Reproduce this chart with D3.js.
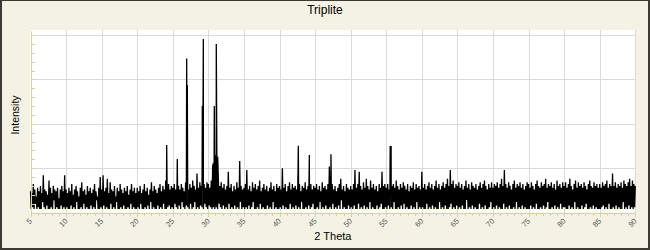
<!DOCTYPE html>
<html><head><meta charset="utf-8">
<script src="https://cdn.jsdelivr.net/npm/d3@7"></script>
<style>html,body{margin:0;padding:0;background:#f4f2e4;}svg{display:block;}</style>
</head><body>
<script>
// ---------- data ----------
const chartTitle = "Triplite";
const xTitle = "2 Theta";
const yTitle = "Intensity";
const xTickValues = [5,10,15,20,25,30,35,40,45,50,55,60,65,70,75,80,85,90];
const yGridValues = [25,50,75,100];

// background counts: upper samples at 5.0, 5.2, ... 90.0 (one row per 5 degrees)
const noiseStart = 5, noiseStep = 0.2;
const noiseHi = [
 12,11,16,13,9, 14,12,15,11,21, 13,12,10,18,14, 11,15,13,12,14, 8,13,15,12,21,
 13,11,14,12,16, 10,13,15,12,9, 14,17,12,13,10, 15,12,14,11,13, 16,12,9,14,20,
 13,21,12,14,19, 11,17,13,12,15, 9,14,12,16,13, 11,14,12,15,10, 13,16,12,14,11,
 14,12,15,11,13, 16,12,14,10,13, 17,12,15,13,11, 14,16,12,15,13, 18,14,16,13,15,
 14,16,13,17,15, 13,16,14,12,17, 15,13,16,14,18, 15,13,22,14,17, 15,13,16,14,17,
 16,14,18,26,24, 28,25,19,15,17, 14,16,13,15,23, 14,16,12,15,13, 17,14,29,15,13,
 14,16,24,13,15, 12,17,14,16,13, 15,18,12,14,16, 13,15,12,14,17, 13,15,12,16,14,
 15,13,25,14,16, 12,15,17,13,16, 14,15,13,24,16, 12,15,14,17,13, 15,14,16,13,15,
 14,16,13,15,12, 17,14,15,13,16, 26,14,16,13,15, 12,14,16,19,13, 15,12,16,14,13,
 15,13,16,24,14, 16,23,15,13,17, 14,19,15,13,18, 14,16,13,15,12, 16,14,23,15,16,
 14,16,13,17,15, 16,14,18,15,13, 16,14,17,15,13, 16,12,15,14,17, 13,16,14,15,13,
 23,14,16,13,15, 17,14,16,13,15, 18,14,16,13,15, 17,14,16,19,15, 24,16,18,14,16,
 15,17,14,16,13, 15,18,14,16,13, 17,15,14,16,13, 15,17,14,16,18, 15,13,16,14,17,
 14,16,15,17,14, 16,19,15,24,16, 14,17,15,13,16, 18,14,16,15,17, 14,16,13,15,17,
 16,14,17,15,13, 16,18,15,14,17, 15,16,19,14,16, 15,17,14,16,13, 18,15,16,14,17,
 15,17,14,16,19, 15,13,16,18,14, 17,15,16,14,17, 15,13,16,18,15, 14,17,15,16,14,
 16,14,17,15,16, 18,14,16,15,22, 15,17,14,16,15, 17,14,18,16,15, 17,19,15,18,16,
 15
];
// background counts: lower samples at 5.1, 5.3, ... 89.9
const noiseLo = [
 2,3,2,5,2, 3,2,2,6,3, 2,4,2,2,3, 2,7,2,3,2, 2,4,2,3,2,
 3,2,2,4,2, 3,2,6,2,2, 3,2,5,2,3, 2,2,4,2,3, 2,7,2,2,3,
 2,4,2,3,2, 2,5,2,3,2, 6,2,2,3,2, 4,2,2,3,2, 5,2,3,2,2,
 3,2,5,2,2, 3,2,4,2,6, 2,3,2,2,4, 2,3,2,5,2, 2,3,4,2,3,
 2,5,3,2,4, 2,6,3,2,4, 3,2,5,2,3, 6,2,3,2,4, 3,2,5,3,2,
 4,3,2,3,2, 3,2,5,3,2, 4,2,3,2,5, 2,3,2,4,2, 3,2,6,2,3,
 2,3,2,4,2, 3,6,2,2,3, 2,5,2,3,2, 2,4,2,3,2, 6,2,3,2,2,
 3,2,4,2,3, 2,2,5,2,3, 2,4,2,3,2, 6,2,2,3,2, 4,2,3,5,2,
 2,3,2,6,2, 3,2,4,2,2, 3,2,5,2,3, 2,4,2,7,2, 3,2,2,4,2,
 3,2,4,2,2, 5,2,3,2,4, 2,3,2,6,2, 3,2,2,4,2, 3,5,2,2,3,
 2,4,2,3,2, 6,2,2,3,2, 4,2,5,2,3, 2,2,4,2,3, 2,6,2,3,2,
 3,2,2,5,2, 3,2,4,2,3, 2,2,6,2,3, 2,4,2,2,3, 5,2,3,2,4,
 2,3,2,4,2, 2,7,2,3,2, 4,2,3,2,2, 5,2,3,2,4, 2,2,3,6,2,
 3,2,4,2,3, 2,2,5,2,3, 2,4,2,2,3, 2,6,2,3,2, 4,2,3,2,2,
 2,4,2,3,2, 5,2,2,3,2, 4,2,3,6,2, 2,3,2,4,2, 3,2,5,2,3,
 3,2,2,4,2, 3,2,6,2,3, 2,2,4,2,3, 5,2,2,3,2, 4,2,3,2,2,
 2,3,4,2,3, 2,5,2,2,3, 2,4,2,3,2, 2,6,2,3,2, 4,2,3,2,3
];
// diffraction peaks
const peak2Theta    = [24.14, 25.63, 26.95, 27.04, 29.15, 29.29, 30.69, 30.83, 30.97, 31.11, 31.31, 42.64, 44.19, 47.23, 55.55, 55.68];
const peakIntensity = [38.0,  30.2,  86.9,  71.9,  60.0,  97.8,  27.7,  60.0,  32.4,  95.0,  31.4,  37.7,  32.4,  32.8,  37.5,  37.5];

// ---------- build series ----------
const series = [];
noiseHi.forEach((v,i)=>series.push({t: noiseStart + i*noiseStep, v}));
noiseLo.forEach((v,i)=>series.push({t: noiseStart + noiseStep/2 + i*noiseStep, v}));
peak2Theta.forEach((t,i)=>series.push({t, v: peakIntensity[i]}));
series.sort((a,b)=>a.t-b.t);

// ---------- layout ----------
const W = 650, H = 250;
const L = 30.5, R = 635.3, T = 30, B = 212.5;
const bg = "#f4f2e4", frame = "#3b3a33", axisCol = "#d8d296", gridCol = "#dadada";
const font = "'Liberation Sans', Arial, sans-serif";

const svg = d3.select("body").append("svg").attr("width", W).attr("height", H);
svg.append("rect").attr("width", W).attr("height", H).attr("fill", bg);
// frame
svg.append("rect").attr("x",0).attr("y",0).attr("width",W).attr("height",1).attr("fill",frame);
svg.append("rect").attr("x",0).attr("y",0).attr("width",2).attr("height",H).attr("fill",frame);
svg.append("rect").attr("x",W-2).attr("y",0).attr("width",2).attr("height",H).attr("fill",frame);
svg.append("rect").attr("x",0).attr("y",H-2).attr("width",W).attr("height",2).attr("fill",frame);

const x = d3.scaleLinear().domain([5, 90]).range([L, R]);
const y = d3.scaleLinear().domain([0, 102.9]).range([B, T]);

// plot background
svg.append("rect").attr("x", 30).attr("y", T).attr("width", R - 30 + 0.5).attr("height", B - T).attr("fill", "#fff");

// grid
const gx = svg.append("g").attr("transform", `translate(0,${T})`)
  .call(d3.axisBottom(x).tickValues(xTickValues.slice(1)).tickSize(B - T).tickFormat(""));
gx.select(".domain").remove();
gx.selectAll("line").attr("stroke", gridCol).attr("shape-rendering","crispEdges");
const gy = svg.append("g").attr("transform", `translate(${L},0)`)
  .call(d3.axisRight(y).tickValues(yGridValues).tickSize(R - L).tickFormat(""));
gy.select(".domain").remove();
gy.selectAll("line").attr("stroke", gridCol).attr("shape-rendering","crispEdges");

// data
const line = d3.line().x(d => x(d.t)).y(d => y(d.v));
svg.append("path").datum(series).attr("d", line)
  .attr("fill", "none").attr("stroke", "#000").attr("stroke-width", 1.3)
  .attr("stroke-linejoin", "miter").attr("stroke-miterlimit", 1.5);

// x axis
const xMinor = svg.append("g").attr("transform", `translate(0,${B})`)
  .call(d3.axisBottom(x).tickValues(d3.range(5, 91, 1)).tickSize(3).tickSizeOuter(0).tickFormat(""));
xMinor.select(".domain").attr("stroke", axisCol).attr("shape-rendering","crispEdges");
xMinor.selectAll("line").attr("stroke", axisCol).attr("shape-rendering","crispEdges");
const xMajor = svg.append("g").attr("transform", `translate(0,${B})`)
  .call(d3.axisBottom(x).tickValues(xTickValues).tickSize(4).tickSizeOuter(0).tickFormat(""));
xMajor.select(".domain").remove();
xMajor.selectAll("line").attr("stroke", axisCol).attr("shape-rendering","crispEdges");
svg.append("g").selectAll("text").data(xTickValues).join("text")
  .attr("transform", d => `translate(${x(d) + 2},${221.5}) rotate(-45)`)
  .attr("text-anchor", "end")
  .attr("font-family", font).attr("font-size", 7.5).attr("fill", "#555")
  .text(d => d);

// y axis
const yAx = svg.append("g").attr("transform", `translate(${L},0)`)
  .call(d3.axisRight(y).tickValues(d3.range(0, 101, 5)).tickSize(4).tickSizeOuter(0).tickFormat(""));
yAx.select(".domain").attr("stroke", axisCol).attr("shape-rendering","crispEdges");
yAx.selectAll("line").attr("stroke", axisCol).attr("shape-rendering","crispEdges");

// titles
svg.append("text").attr("x", 325).attr("y", 13.5).attr("text-anchor", "middle")
  .attr("font-family", font).attr("font-size", 12).attr("fill", "#000").text(chartTitle);
svg.append("text").attr("x", (L + R) / 2).attr("y", 239.5).attr("text-anchor", "middle")
  .attr("font-family", font).attr("font-size", 11).attr("fill", "#000").text(xTitle);
svg.append("text").attr("transform", `translate(18.5,115) rotate(-90)`).attr("text-anchor", "middle")
  .attr("font-family", font).attr("font-size", 10.5).attr("fill", "#000").text(yTitle);
</script>
</body></html>
